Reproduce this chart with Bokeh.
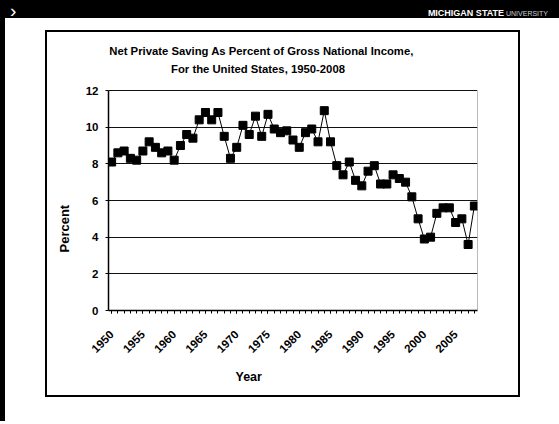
import math
from bokeh.plotting import figure
from bokeh.models import (Range1d, SingleIntervalTicker, FixedTicker, Title, Div,
                          Label, LinearAxis)
from bokeh.layouts import column
from bokeh.embed import file_html
from bokeh.resources import INLINE

# ---------------- data ----------------
years = list(range(1950, 2009))
saving_pct = [8.1, 8.6, 8.7, 8.3, 8.2, 8.7, 9.2, 8.9, 8.6, 8.7,
              8.2, 9.0, 9.6, 9.4, 10.4, 10.8, 10.4, 10.8, 9.5, 8.3,
              8.9, 10.1, 9.6, 10.6, 9.5, 10.7, 9.9, 9.7, 9.8, 9.3,
              8.9, 9.7, 9.9, 9.2, 10.9, 9.2, 7.9, 7.4, 8.1, 7.1,
              6.8, 7.6, 7.9, 6.9, 6.9, 7.4, 7.2, 7.0, 6.2, 5.0,
              3.9, 4.0, 5.3, 5.6, 5.6, 4.8, 5.0, 3.6, 5.7]
y_ticks = [0, 2, 4, 6, 8, 10, 12]
title_line1 = "Net Private Saving As Percent of Gross National Income,"
title_line2 = "For the United States, 1950-2008"
x_label = "Year"
y_label = "Percent"
brand_main = "MICHIGAN STATE"
brand_sub = "UNIVERSITY"

FONT = "Liberation Sans"

# ---------------- chart box geometry (px inside the box) ----------------
BW, BH = 471, 363
FL, FR, FB = 61, 430, 278          # frame left/right/bottom
Y12 = 58                           # pixel row of the 12 % line
FT = 10                            # frame top (room for the title inside)
X0, X1 = 1949.5, 2008.5
YTOP = y_ticks[-1] + (Y12 - FT) * y_ticks[-1] / (FB - Y12)

def dx(px):
    return X0 + (px - FL) * (X1 - X0) / (FR - FL)

def dy(py):
    return (FB - py) * y_ticks[-1] / (FB - Y12)

p = figure(width=BW, height=BH, output_backend="svg", toolbar_location=None,
           x_range=Range1d(X0, X1), y_range=Range1d(0, YTOP),
           min_border_left=FL, min_border_right=BW - FR,
           min_border_top=FT, min_border_bottom=BH - FB)
p.title.visible = False
p.background_fill_color = "white"
p.border_fill_color = "white"
p.outline_line_color = None
p.styles = {"outline": "2px solid black"}
p.margin = (14, 0, 26, 42)

p.xaxis.ticker = SingleIntervalTicker(interval=5, num_minor_ticks=5)
p.yaxis.ticker = FixedTicker(ticks=y_ticks)
p.yaxis.bounds = (y_ticks[0], y_ticks[-1])
for ax in (p.xaxis, p.yaxis):
    ax.axis_line_color = "black"
    ax.axis_line_width = 1.5
    ax.major_tick_line_color = "black"
    ax.minor_tick_line_color = "black"
    ax.major_tick_in = 0
    ax.minor_tick_in = 0
    ax.major_label_text_font = FONT
    ax.major_label_text_font_style = "bold"
    ax.major_label_text_color = "black"
p.xaxis.major_tick_out = 3
p.xaxis.minor_tick_out = 3
p.xaxis.major_label_orientation = math.pi / 4
p.xaxis.major_label_text_font_size = "11.5px"
p.xaxis.major_label_standoff = 19
p.yaxis.major_tick_out = 3
p.yaxis.minor_tick_out = 0
p.yaxis.major_label_text_font_size = "11.5px"
p.yaxis.major_label_standoff = 7

# dotted right border of the plot area (0..12)
right_axis = LinearAxis(bounds=(y_ticks[0], y_ticks[-1]), ticker=FixedTicker(ticks=[]),
                        axis_line_color="#777777", axis_line_dash="1 1",
                        axis_line_width=1, major_tick_line_color=None,
                        minor_tick_line_color=None, major_label_text_font_size="0px")
p.add_layout(right_axis, "right")

p.xgrid.grid_line_color = None
p.ygrid.grid_line_color = "#111111"
p.ygrid.grid_line_width = 1

p.line(years, saving_pct, line_color="black", line_width=1)
p.scatter(years, saving_pct, marker="square", size=8,
          fill_color="black", line_color="black")

# chart title (inside the frame, above the 12 % line)
for text, cx, cy in ((title_line1, 214, 18), (title_line2, 210.5, 36)):
    p.add_layout(Label(x=dx(cx), y=dy(cy), text=text, text_font=FONT,
                       text_font_size="11.3px", text_font_style="bold",
                       text_color="black", text_align="center",
                       text_baseline="middle"))

p.add_layout(Title(text=x_label, align="left", offset=127, standoff=16,
                   text_font=FONT, text_font_size="12.5px",
                   text_font_style="bold", text_color="black"), "below")
p.add_layout(Title(text=y_label, align="left", offset=58, standoff=18,
                   vertical_align="top", text_font=FONT, text_font_size="13px",
                   text_line_height=0.8,
                   text_font_style="bold", text_color="black"), "left")

# ---------------- top banner ----------------
banner_html = (
    '<div style="position:relative;width:554px;height:18px;'
    'font-family:\'Liberation Sans\',sans-serif;color:white;">'
    '<span style="position:absolute;left:5px;top:3px;font-size:19px;line-height:16px;">&#8250;</span>'
    '<span style="position:absolute;right:11px;top:8px;line-height:9px;white-space:nowrap;">'
    '<b style="font-size:9px;">' + brand_main + '</b>'
    '<span style="font-size:7px;color:#cccccc;"> ' + brand_sub + '</span></span></div>'
)
bar = Div(text=banner_html, width=554, height=18,
          styles={"background-color": "black"}, margin=(0, 0, 0, 0))

page = column(bar, p, spacing=0, styles={"border-left": "5px solid black"})
open("out.html", "w").write(file_html(page, INLINE))
